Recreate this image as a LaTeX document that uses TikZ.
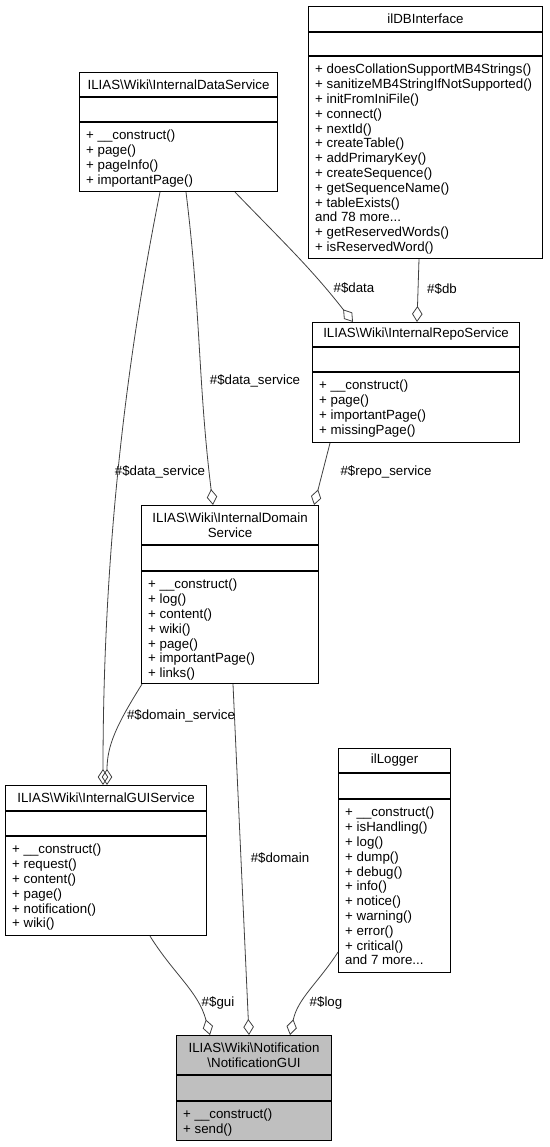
\documentclass[tikz,border=0pt]{standalone}
\usepackage{fontspec}
\setmainfont{Liberation Sans}
\usetikzlibrary{arrows.meta}
\def\compartments(#1)(#2:#3){\draw[sepline] ([yshift=-#2pt]#1.north west) -- ([yshift=-#2pt]#1.north east); \draw[sepline] ([yshift=-#3pt]#1.north west) -- ([yshift=-#3pt]#1.north east);}

\begin{document}
\begin{tikzpicture}[x=1pt,y=-1pt,
	classbox/.style={draw=black, line width=1.1pt, anchor=north west, inner sep=0pt, fill=white},
	sepline/.style={draw=black, line width=1.1pt},
	classname/.style={align=center, inner sep=0pt, font=\fontsize{13.3}{14.8}\selectfont},
	members/.style={align=left, anchor=north west, inner sep=0pt, font=\fontsize{13.3}{14.8}\selectfont},
	agg/.style={draw=black!75, line width=0.8pt, -{Diamond[open,length=16pt,width=10.5pt]}},
	role/.style={font=\fontsize{13.3}{14.8}\selectfont, inner sep=0pt}]
			%%%%% START %%%%%
			\useasboundingbox (0,0) rectangle (549,1147);
			
			% ilDBInterface
			\node[classbox, minimum width=234pt, minimum height=252pt] (db) at (308,6) {};
			\compartments(db)(26:50)
			\node[classname] (dbname) at ([yshift=-13pt]db.north) {ilDBInterface};
			\node[members] (dbops) at ([xshift=7pt,yshift=-58pt]db.north west) {+ doesCollationSupportMB4Strings()\\+ sanitizeMB4StringIfNotSupported()\\+ initFromIniFile()\\+ connect()\\+ nextId()\\+ createTable()\\+ addPrimaryKey()\\+ createSequence()\\+ getSequenceName()\\+ tableExists()\\and 78 more...\\+ getReservedWords()\\+ isReservedWord()};
			
			% InternalDataService
			\node[classbox, minimum width=198pt, minimum height=119pt] (data) at (79,72) {};
			\compartments(data)(25:50)
			\node[classname] (dataname) at ([yshift=-12.5pt]data.north) {ILIAS\textbackslash Wiki\textbackslash InternalDataService};
			\node[members] (dataops) at ([xshift=7pt,yshift=-58pt]data.north west) {+ \_\_construct()\\+ page()\\+ pageInfo()\\+ importantPage()};
			
			% InternalRepoService
			\node[classbox, minimum width=207pt, minimum height=120pt] (repo) at (312,322) {};
			\compartments(repo)(25:50)
			\node[classname] (reponame) at ([yshift=-12.5pt]repo.north) {ILIAS\textbackslash Wiki\textbackslash InternalRepoService};
			\node[members] (repoops) at ([xshift=7pt,yshift=-58pt]repo.north west) {+ \_\_construct()\\+ page()\\+ importantPage()\\+ missingPage()};
			
			% InternalDomainService
			\node[classbox, minimum width=177pt, minimum height=178pt] (domain) at (141,505) {};
			\compartments(domain)(40:66)
			\node[classname] (domainname) at ([yshift=-20pt]domain.north) {ILIAS\textbackslash Wiki\textbackslash InternalDomain\\Service};
			\node[members] (domainops) at ([xshift=7pt,yshift=-74pt]domain.north west) {+ \_\_construct()\\+ log()\\+ content()\\+ wiki()\\+ page()\\+ importantPage()\\+ links()};
			
			% InternalGUIService
			\node[classbox, minimum width=201pt, minimum height=150pt] (gui) at (5,785) {};
			\compartments(gui)(26:51)
			\node[classname] (guiname) at ([yshift=-13pt]gui.north) {ILIAS\textbackslash Wiki\textbackslash InternalGUIService};
			\node[members] (guiops) at ([xshift=7pt,yshift=-59pt]gui.north west) {+ \_\_construct()\\+ request()\\+ content()\\+ page()\\+ notification()\\+ wiki()};
			
			% ilLogger
			\node[classbox, minimum width=112pt, minimum height=224pt] (logger) at (338,748) {};
			\compartments(logger)(25:51)
			\node[classname] (loggername) at ([yshift=-12.5pt]logger.north) {ilLogger};
			\node[members] (loggerops) at ([xshift=7pt,yshift=-59pt]logger.north west) {+ \_\_construct()\\+ isHandling()\\+ log()\\+ dump()\\+ debug()\\+ info()\\+ notice()\\+ warning()\\+ error()\\+ critical()\\and 7 more...};
			
			% NotificationGUI
			\node[classbox, fill=black!25, minimum width=155pt, minimum height=105pt] (notif) at (176,1035) {};
			\compartments(notif)(40:66)
			\node[classname] (notifname) at ([yshift=-20pt]notif.north) {ILIAS\textbackslash Wiki\textbackslash Notification\\\textbackslash NotificationGUI};
			\node[members] (notifops) at ([xshift=7pt,yshift=-74pt]notif.north west) {+ \_\_construct()\\+ send()};
			
			% aggregations
			\draw[agg] ([xshift=156pt]data.south west) to[out=-46,in=128] ([xshift=41pt]repo.north west);
			\draw[agg] ([xshift=111pt]db.south west) -- ([xshift=105pt]repo.north west);
			\draw[agg] ([xshift=107pt]data.south west) to[out=-83,in=97] ([xshift=72pt]domain.north west);
			\draw[agg] ([xshift=18pt]repo.south west) -- ([xshift=-5pt]domain.north east);
			\draw[agg] ([xshift=81pt]data.south west) .. controls +(-30,150) and +(0,-250) .. ([xshift=98pt]gui.north west);
			\draw[agg] ([xshift=1pt]domain.south west) .. controls +(-25,40) and +(0,-40) .. ([xshift=102pt]gui.north west);
			\draw[agg] ([xshift=145pt]gui.south west) to[out=-58,in=105] ([xshift=34pt]notif.north west);
			\draw[agg] ([xshift=92pt]domain.south west) -- ([xshift=73pt]notif.north west);
			\draw[agg] ([yshift=21pt]logger.south west) to[out=-123,in=78] ([xshift=114pt]notif.north west);
			
			\node[role] (ldata) at (354,288) {\#\$data};
			\node[role] (ldb) at (442,289) {\#\$db};
			\node[role] (ldataservice) at (255,381) {\#\$data\_service};
			\node[role] (lreposervice) at (386,472) {\#\$repo\_service};
			\node[role] (ldataservicegui) at (160,472) {\#\$data\_service};
			\node[role] (ldomainservice) at (181,716) {\#\$domain\_service};
			\node[role] (ldomain) at (280,858) {\#\$domain};
			\node[role] (lgui) at (218,1003) {\#\$gui};
			\node[role] (llog) at (326,1003) {\#\$log};
			%%%%% END %%%%%
\end{tikzpicture}
\end{document}
